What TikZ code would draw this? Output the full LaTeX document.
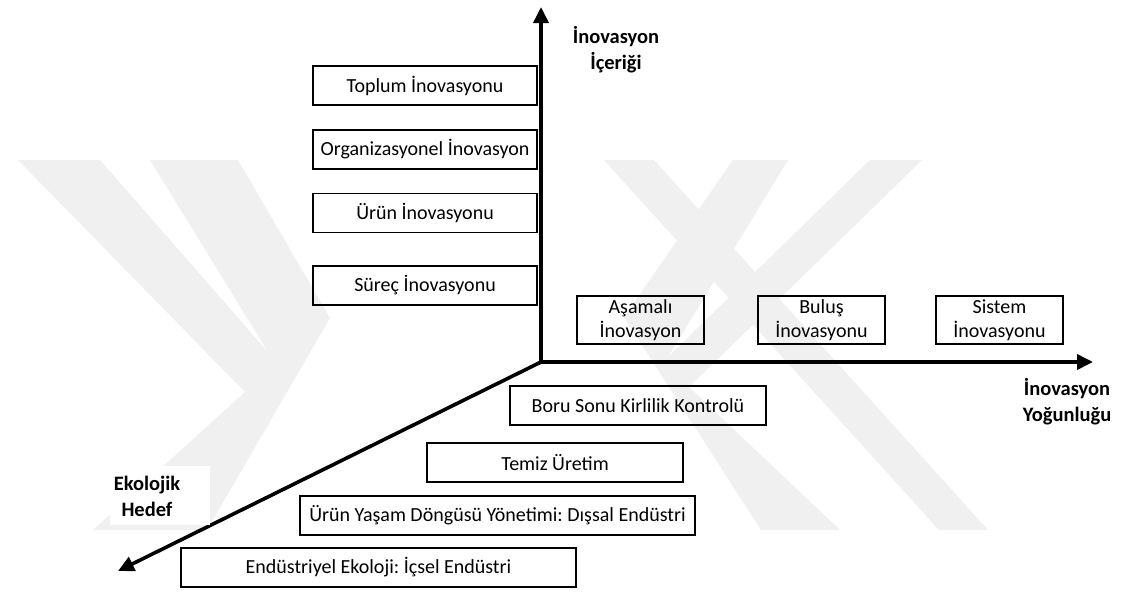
\documentclass[tikz,border=0pt]{standalone}
\usepackage{fontspec}
\setmainfont{Carlito}
\frenchspacing
\usetikzlibrary{arrows.meta}
\begin{document}
\begin{tikzpicture}[x=1pt,y=-1pt,
  box/.style={draw=black, line width=1.6pt, inner sep=0pt,
    font=\fontsize{20}{24}\selectfont, align=center},
  axislabel/.style={font=\fontsize{20.5}{26}\selectfont\bfseries,
    align=center, inner sep=0pt},
  axis/.style={line width=3.6pt, line join=miter},
  >={Triangle[length=16pt,width=15pt]},
  shade/.style={fill=black!6, draw=none}]
\useasboundingbox (0,0) rectangle (1121,592);
\fill[white] (0,0) rectangle (1121,592);

% background emblem
\fill[shade] (18,160) -- (100,160) -- (268,352) -- (150,160) -- (238,160)
  -- (330,318) -- (207,530) -- (93,530) -- (245,392) -- cycle;
\fill[shade] (922,160) -- (870,160) -- (668,357) -- (788,160) -- (733,160)
  -- (624,317) -- (761,530) -- (840,530) -- (689,387) -- cycle;
\fill[shade] (604,160) -- (654,160) -- (988,530) -- (939,530) -- cycle;

% axes
\coordinate (O) at (541,362);
\coordinate (up) at (541,7);
\coordinate (right) at (1093,362);
\coordinate (down) at (118,571);
\draw[axis, <->] (up) -- (O) -- (right);
\draw[axis, ->] (O) -- (down);

% content of innovation
\node[box, minimum width=224pt, minimum height=39pt] (toplum) at (425,85.5) {Toplum İnovasyonu};
\node[box, minimum width=224pt, minimum height=39pt] (org) at (425,149.5) {Organizasyonel İnovasyon};
\node[box, minimum width=224pt, minimum height=39pt] (urun) at (425,213) {Ürün İnovasyonu};
\node[box, minimum width=224pt, minimum height=39pt] (surec) at (425,285.5) {Süreç İnovasyonu};

% intensity of innovation
\node[box, minimum width=127pt, minimum height=48pt] (asamali) at (640.5,320) {Aşamalı\\İnovasyon};
\node[box, minimum width=127pt, minimum height=48pt] (bulus) at (821.5,320) {Buluş\\İnovasyonu};
\node[box, minimum width=127pt, minimum height=48pt] (sistem) at (999.5,320) {Sistem\\İnovasyonu};

% ecological target
\node[box, minimum width=256pt, minimum height=39pt] (boru) at (638,405.5) {Boru Sonu Kirlilik Kontrolü};
\node[box, minimum width=256pt, minimum height=39pt] (temiz) at (555,462.5) {Temiz Üretim};
\node[box, minimum width=395pt, minimum height=39pt] (yasam) at (497.5,515.5) {Ürün Yaşam Döngüsü Yönetimi: Dışsal Endüstri};
\node[box, minimum width=395pt, minimum height=39pt] (endustri) at (378.5,567.5) {Endüstriyel Ekoloji: İçsel Endüstri};

% axis titles
\node[axislabel] (icerik) at (616,50) {İnovasyon\\İçeriği};
\node[axislabel] (yogunluk) at (1067,402) {İnovasyon\\Yoğunluğu};
\fill[white] (110,466) rectangle (210,525);
\node[axislabel] (hedef) at (147,496) {Ekolojik\\Hedef};
\end{tikzpicture}
\end{document}
